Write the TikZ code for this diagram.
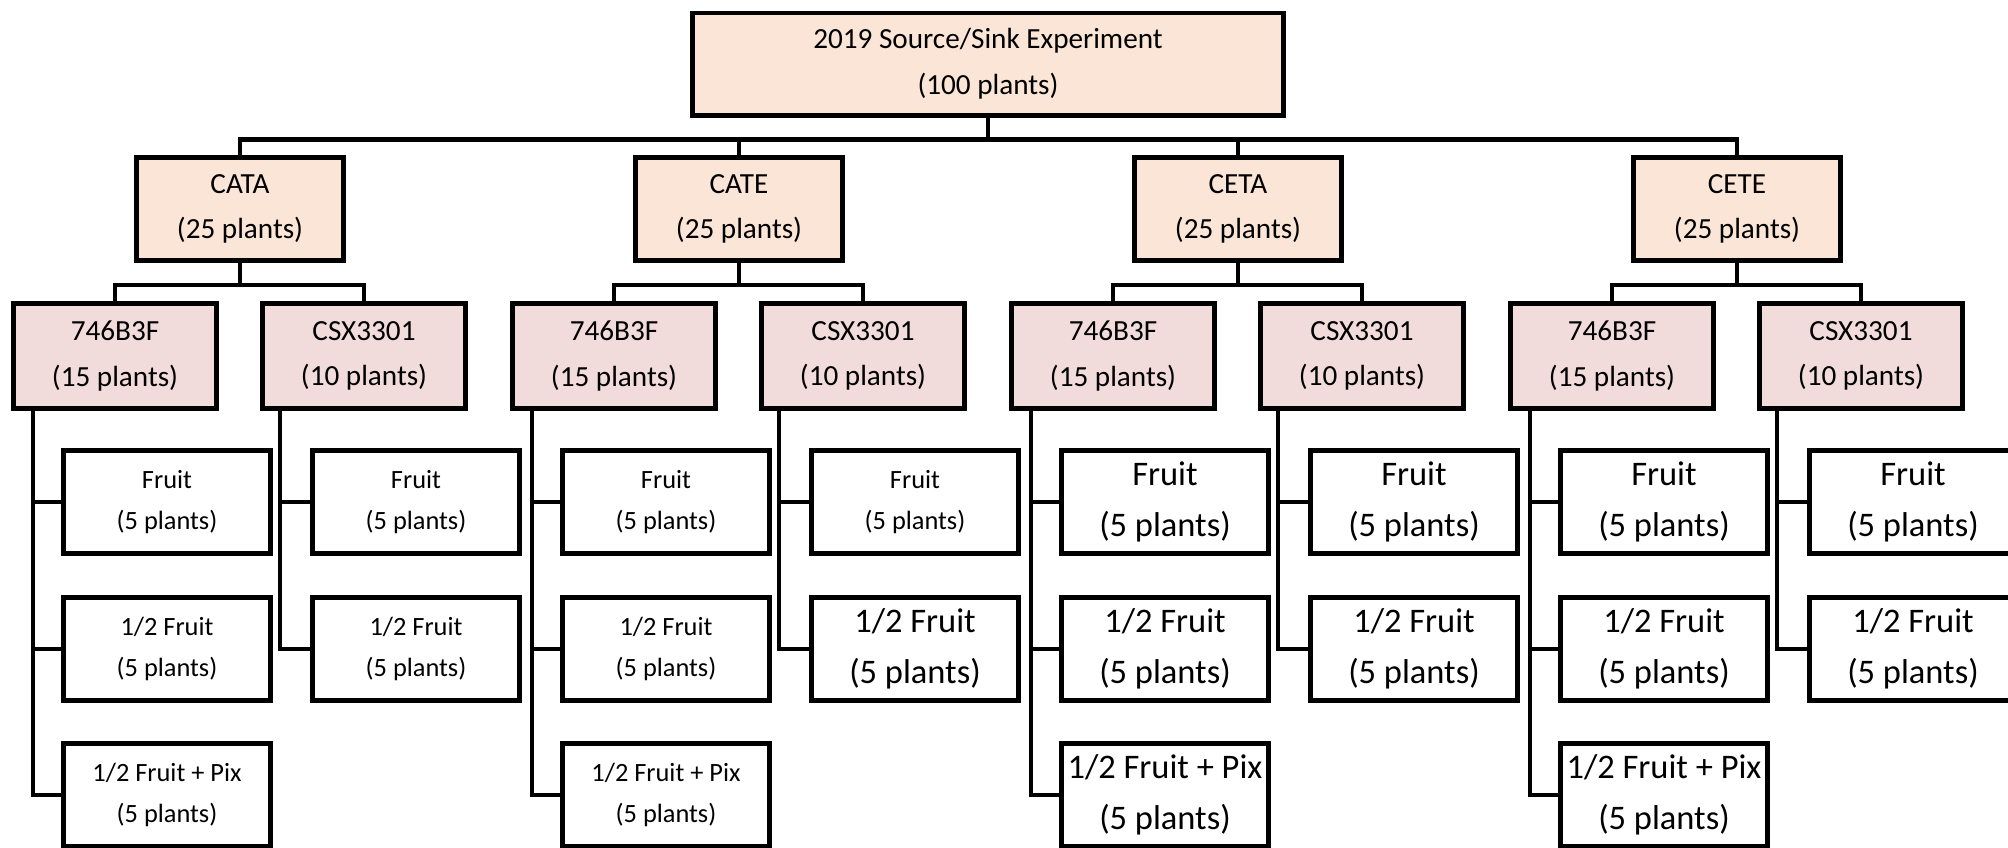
\documentclass[tikz,border=0pt]{standalone}
\usepackage{fontspec}
\setmainfont{Carlito}
\usepackage{xcolor}
\definecolor{peach}{HTML}{FBE5D6}
\definecolor{rose}{HTML}{F2DCDB}

\tikzset{
  box/.style={draw, rectangle, line width=1.4pt, align=center, inner sep=0pt},
  topbox/.style={box, fill=peach, minimum width=5.91cm, minimum height=1.02cm, font=\fontsize{8.3}{13}\selectfont},
  grpbox/.style={box, fill=peach, minimum width=2.07cm, minimum height=1.03cm, font=\fontsize{8.3}{13}\selectfont},
  linebox/.style={box, fill=rose, minimum width=2.03cm, minimum height=1.05cm, font=\fontsize{8.3}{13}\selectfont},
  leaf/.style={box, fill=white, minimum width=2.06cm, minimum height=1.03cm},
  leafsm/.style={leaf, font=\fontsize{7.5}{11.7}\selectfont},
  leaflg/.style={leaf, font=\fontsize{9.8}{14.5}\selectfont},
  conn/.style={line width=1.2pt}
}

\begin{document}
\begin{tikzpicture}[x=0.01cm, y=-0.01cm]
        \useasboundingbox (0,0) rectangle (2008,847);
        \node (top) [topbox] at (988,64) {2019 Source/Sink Experiment\\(100 plants)};

        \foreach \i/\name/\sa/\sb/\sc in {0/CATA/leafsm/leafsm/leafsm, 1/CATE/leafsm/leafsm/leaflg, 2/CETA/leaflg/leaflg/leaflg, 3/CETE/leaflg/leaflg/leaflg} {
            \pgfmathsetmacro\dx{499*\i}
            \node (grp-\i) [grpbox] at (240+\dx,209) {\name\\(25 plants)};
            \node (lineA-\i) [linebox] at (115+\dx,356) {746B3F\\(15 plants)};
            \node (lineB-\i) [linebox] at (364+\dx,356) {CSX3301\\(10 plants)};
            \node (fruitA-\i) [\sa] at (167+\dx,502) {Fruit\\(5 plants)};
            \node (halfA-\i) [\sa] at (167+\dx,649) {1/2 Fruit\\(5 plants)};
            \node (pixA-\i) [\sa] at (167+\dx,795) {1/2 Fruit + Pix\\(5 plants)};
            \node (fruitB-\i) [\sb] at (416+\dx,502) {Fruit\\(5 plants)};
            \node (halfB-\i) [\sc] at (416+\dx,649) {1/2 Fruit\\(5 plants)};

            \draw[conn] (top.south) -- ++(0,22) -| (grp-\i.north);
            \draw[conn] (grp-\i.south) -- ++(0,22) -| (lineA-\i.north);
            \draw[conn] (grp-\i.south) -- ++(0,22) -| (lineB-\i.north);
            \draw[conn] ([xshift=0.22cm]lineA-\i.south west) |- (fruitA-\i.west);
            \draw[conn] ([xshift=0.22cm]lineA-\i.south west) |- (halfA-\i.west);
            \draw[conn] ([xshift=0.22cm]lineA-\i.south west) |- (pixA-\i.west);
            \draw[conn] ([xshift=0.2cm]lineB-\i.south west) |- (fruitB-\i.west);
            \draw[conn] ([xshift=0.2cm]lineB-\i.south west) |- (halfB-\i.west);
        }
    \end{tikzpicture}
\end{document}
